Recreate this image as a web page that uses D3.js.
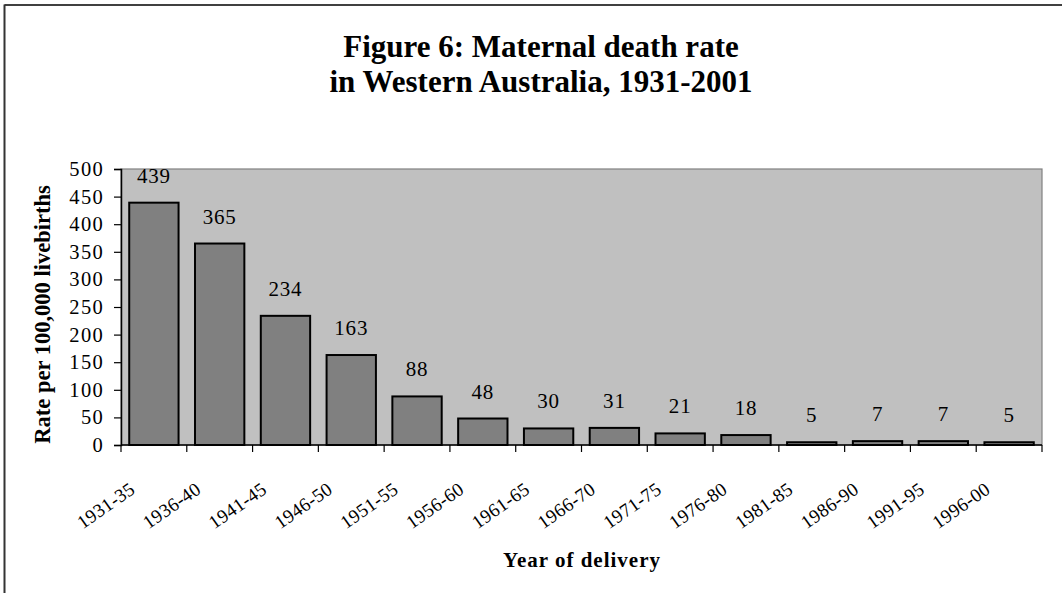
<!DOCTYPE html>
<html>
<head>
<meta charset="utf-8">
<script src="https://cdn.jsdelivr.net/npm/d3@7"></script>
<style>
  html, body { margin: 0; padding: 0; background: #fff; }
  svg { display: block; }
  text { font-family: "Liberation Serif", "Times New Roman", serif; fill: #000; }
</style>
</head>
<body>
<svg id="chart" width="1062" height="593"></svg>
<script>
const categories = ["1931-35","1936-40","1941-45","1946-50","1951-55","1956-60","1961-65","1966-70","1971-75","1976-80","1981-85","1986-90","1991-95","1996-00"];
const rates = [439, 365, 234, 163, 88, 48, 30, 31, 21, 18, 5, 7, 7, 5];
const yTicks = [0, 50, 100, 150, 200, 250, 300, 350, 400, 450, 500];
const titleLines = ["Figure 6: Maternal death rate", "in Western Australia, 1931-2001"];
const yTitle = "Rate per 100,000 livebirths";
const xTitle = "Year of delivery";

const svg = d3.select("#chart");
const W = 1062, H = 593;
const plot = { left: 121, right: 1042, top: 169, bottom: 445 };

// outer chart border (only top and left visible)
svg.append("line").attr("x1", 4.5).attr("x2", W + 2).attr("y1", 5).attr("y2", 5)
  .attr("stroke", "#000").attr("stroke-width", 1.5);
svg.append("line").attr("x1", 4.5).attr("x2", 4.5).attr("y1", 4.5).attr("y2", H + 2)
  .attr("stroke", "#333").attr("stroke-width", 2);

// title
svg.append("g").selectAll("text").data(titleLines).join("text")
  .attr("x", 541).attr("y", (d, i) => 57 + i * 35)
  .attr("text-anchor", "middle")
  .attr("font-size", 31).attr("font-weight", "bold")
  .text(d => d);

const x = d3.scaleBand().domain(categories).range([plot.left, plot.right]).paddingInner(0.25).paddingOuter(0.125);
const xEdges = d3.scaleBand().domain(categories).range([plot.left, plot.right]).padding(0);
const y = d3.scaleLinear().domain([0, 500]).range([plot.bottom, plot.top]);

// plot area background
svg.append("rect")
  .attr("x", plot.left).attr("y", plot.top)
  .attr("width", plot.right - plot.left).attr("height", plot.bottom - plot.top)
  .attr("fill", "#c0c0c0").attr("stroke", "#808080").attr("stroke-width", 1.2);

// bars
svg.append("g").selectAll("rect").data(rates).join("rect")
  .attr("x", (d, i) => x(categories[i]))
  .attr("y", d => y(d))
  .attr("width", x.bandwidth())
  .attr("height", d => y(0) - y(d))
  .attr("fill", "#808080").attr("stroke", "#000").attr("stroke-width", 2);

// data labels
svg.append("g").selectAll("text").data(rates).join("text")
  .attr("x", (d, i) => x(categories[i]) + x.bandwidth() / 2)
  .attr("y", d => y(d) - 20)
  .attr("text-anchor", "middle")
  .attr("font-size", 21).attr("letter-spacing", 0.8)
  .text(d => d);

// y axis
const yAxis = d3.axisLeft(y).tickValues(yTicks).tickSize(7).tickPadding(10);
const gy = svg.append("g").attr("transform", `translate(${plot.left},0)`).call(yAxis);
gy.select(".domain").attr("stroke", "#000").attr("stroke-width", 1.5);
gy.selectAll(".tick line").attr("stroke", "#000").attr("stroke-width", 1.2);
gy.selectAll(".tick text")
  .attr("font-family", "Liberation Serif").attr("font-size", 20.5).attr("letter-spacing", 1.3)
  .attr("fill", "#000");

// x axis line & ticks at band edges
svg.append("line").attr("x1", plot.left).attr("x2", plot.right).attr("y1", plot.bottom).attr("y2", plot.bottom)
  .attr("stroke", "#000").attr("stroke-width", 1.5);
const edges = categories.map(c => xEdges(c)).concat([plot.right]);
svg.append("g").selectAll("line").data(edges).join("line")
  .attr("x1", d => d).attr("x2", d => d)
  .attr("y1", plot.bottom).attr("y2", plot.bottom + 7)
  .attr("stroke", "#000").attr("stroke-width", 1.2);

// category labels (rotated)
svg.append("g").selectAll("text").data(categories).join("text")
  .attr("transform", d => `translate(${xEdges(d) + xEdges.bandwidth() / 2 - 17.5},${492}) rotate(-35)`)
  .attr("text-anchor", "end")
  .attr("font-size", 19).attr("letter-spacing", 0.3)
  .text(d => d);

// axis titles
svg.append("text")
  .attr("transform", `translate(50,${314.5}) rotate(-90)`)
  .attr("text-anchor", "middle")
  .attr("font-size", 22.5).attr("font-weight", "bold")
  .text(yTitle);

svg.append("text")
  .attr("x", 582).attr("y", 567)
  .attr("text-anchor", "middle")
  .attr("font-size", 21).attr("font-weight", "bold").attr("letter-spacing", 1)
  .text(xTitle);
</script>
</body>
</html>
